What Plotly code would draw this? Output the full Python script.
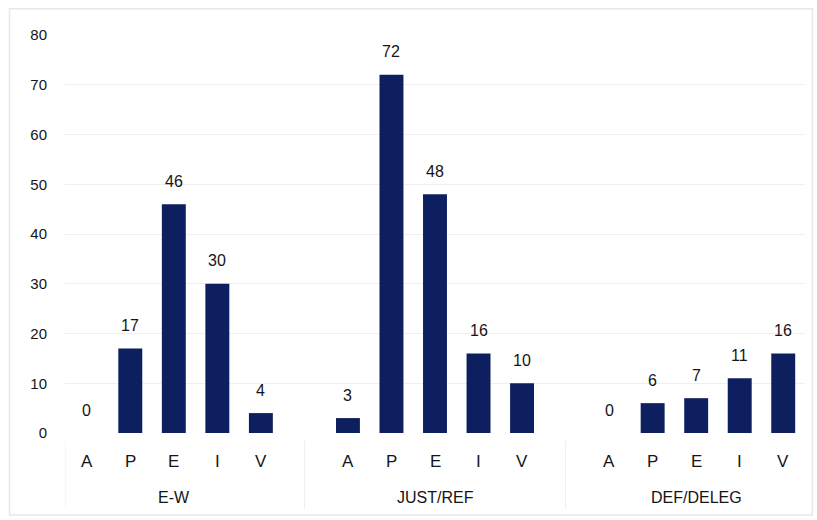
import plotly.graph_objects as go

# Grouped counts per category
groups = ["E-W", "JUST/REF", "DEF/DELEG"]
letters = ["A", "P", "E", "I", "V"]
ew_values = [0, 17, 46, 30, 4]
just_ref_values = [3, 72, 48, 16, 10]
def_deleg_values = [0, 6, 7, 11, 16]
y_ticks = [0, 10, 20, 30, 40, 50, 60, 70, 80]

series = [ew_values, just_ref_values, def_deleg_values]
BAR_COLOR = "#0d1f5e"
FONT = "Liberation Sans, Arial, sans-serif"
TEXT_COLOR = "#151515"

# one empty slot between groups
slot = len(letters) + 1
xs, ys, labels = [], [], []
for g, vals in enumerate(series):
    for i, v in enumerate(vals):
        xs.append(g * slot + i)
        ys.append(v)
        labels.append(letters[i])

fig = go.Figure()
fig.add_trace(go.Bar(
    x=xs, y=ys, width=0.55, marker=dict(color=BAR_COLOR, line=dict(width=0)),
    hoverinfo="skip",
))

annotations = []
# value labels above bars
for x, v in zip(xs, ys):
    annotations.append(dict(
        x=x, y=v, xref="x", yref="y", text=str(v), showarrow=False,
        yanchor="middle", yshift=23, font=dict(family=FONT, size=16, color=TEXT_COLOR),
    ))
# category letters under the axis
for x, lab in zip(xs, labels):
    annotations.append(dict(
        x=x, y=0, xref="x", yref="y", text=lab, showarrow=False,
        yanchor="middle", yshift=-28, font=dict(family=FONT, size=17, color=TEXT_COLOR),
    ))
# group names
shapes = []
for g, name in enumerate(groups):
    center = g * slot + (len(letters) - 1) / 2
    annotations.append(dict(
        x=center, y=0, xref="x", yref="y", text=name, showarrow=False,
        yanchor="middle", yshift=-64, font=dict(family=FONT, size=16, color=TEXT_COLOR),
    ))
    # divider to the left of each group
    xdiv = -0.5 if g == 0 else g * slot - 1
    shapes.append(dict(
        type="line", xref="x", yref="paper", x0=xdiv, x1=xdiv, y0=-0.02, y1=-0.19,
        line=dict(color="#eeeeee", width=1),
    ))

# faint outer frame
shapes.append(dict(
    type="rect", xref="paper", yref="paper", x0=-0.075, x1=1.01, y0=-0.206, y1=1.066,
    line=dict(color="#e8e8e8", width=1.5), layer="below",
))

fig.update_layout(
    width=817, height=520,
    margin=dict(l=65, r=12, t=35, b=87),
    paper_bgcolor="white", plot_bgcolor="white",
    showlegend=False,
    annotations=annotations,
    shapes=shapes,
    xaxis=dict(
        range=[-0.5, len(groups) * slot - 1.5],
        showticklabels=False, showgrid=False, zeroline=False, showline=False,
    ),
    yaxis=dict(
        range=[0, 80], tickvals=y_ticks, showgrid=True, gridcolor="#efefef", gridwidth=1,
        zeroline=False, showline=False, ticks="outside", ticklen=14, tickcolor="rgba(0,0,0,0)",
        tickfont=dict(family=FONT, size=15, color=TEXT_COLOR),
    ),
)

fig.write_html("out.html")
